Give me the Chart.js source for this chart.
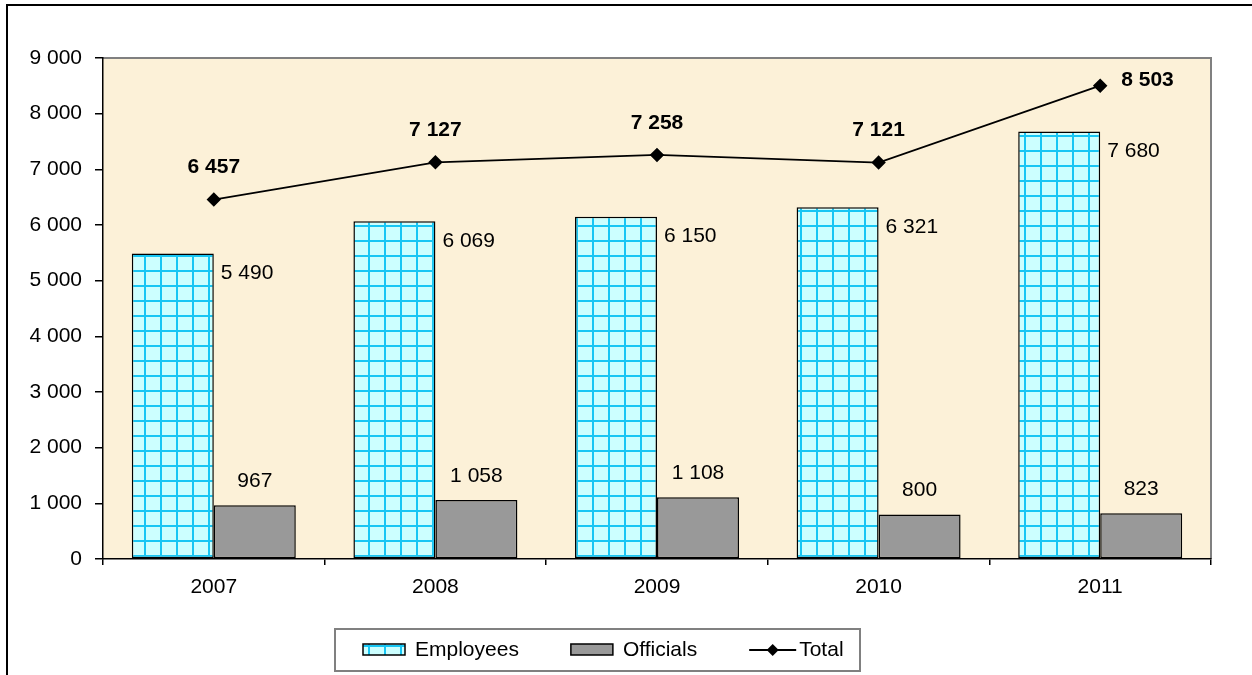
<!DOCTYPE html>
<html>
<head>
<meta charset="utf-8">
<script src="https://cdn.jsdelivr.net/npm/chart.js@4"></script>
<style>
  html, body { margin: 0; padding: 0; background: #fff; }
  #wrap { position: relative; width: 1252px; height: 675px; overflow: hidden; }
  #frame { position: absolute; left: 6px; top: 4px; width: 1300px; height: 700px;
           border-top: 2px solid #000; border-left: 2px solid #000; }
  #chart { position: absolute; left: 0; top: 0; }
</style>
</head>
<body>
<div id="wrap">
  <div id="frame"></div>
  <canvas id="chart" width="1252" height="675"></canvas>
</div>
<script>
// data
const years = ['2007', '2008', '2009', '2010', '2011'];
const employees = [5490, 6069, 6150, 6321, 7680];
const officials = [967, 1058, 1108, 800, 823];
const totals = [6457, 7127, 7258, 7121, 8503];
const yTicks = [0, 1000, 2000, 3000, 4000, 5000, 6000, 7000, 8000, 9000];

const FONT = '"Liberation Sans", Arial, sans-serif';
const FONT_SIZE = 21;

// 1 000 形式
function fmt(v) {
  return String(v).replace(/\B(?=(\d{3})+(?!\d))/g, ' ');
}

const canvas = document.getElementById('chart');
const ctx = canvas.getContext('2d');

// cyan grid fill for the Employees bars
function makeGridPattern() {
  const c = document.createElement('canvas');
  c.width = 16;
  c.height = 15;
  const g = c.getContext('2d');
  g.fillStyle = '#ccffff';
  g.fillRect(0, 0, 16, 15);
  g.strokeStyle = '#18c6f4';
  g.lineWidth = 2;
  g.beginPath();
  g.moveTo(1, 0); g.lineTo(1, 15);
  g.moveTo(0, 1); g.lineTo(16, 1);
  g.stroke();
  return ctx.createPattern(c, 'repeat');
}
const gridFill = makeGridPattern();

// plot background + gray frame on top/right
const plotBg = {
  id: 'plotBg',
  beforeDraw(chart) {
    const { ctx, chartArea: a } = chart;
    ctx.save();
    ctx.fillStyle = '#fcf1d8';
    ctx.fillRect(a.left, a.top, a.right - a.left, a.bottom - a.top);
    ctx.strokeStyle = '#808080';
    ctx.lineWidth = 2;
    ctx.beginPath();
    ctx.moveTo(a.left, a.top);
    ctx.lineTo(a.right, a.top);
    ctx.lineTo(a.right, a.bottom);
    ctx.stroke();
    ctx.restore();
  }
};

// value labels
const valueLabels = {
  id: 'valueLabels',
  afterDatasetsDraw(chart) {
    const ctx = chart.ctx;
    const top = chart.chartArea.top;
    ctx.save();
    ctx.fillStyle = '#000';
    ctx.textBaseline = 'middle';
    chart.data.datasets.forEach((ds, i) => {
      const meta = chart.getDatasetMeta(i);
      meta.data.forEach((el, j) => {
        const v = ds.data[j];
        if (ds.label === 'Employees') {
          ctx.font = FONT_SIZE + 'px ' + FONT;
          ctx.textAlign = 'left';
          ctx.fillText(fmt(v), el.x + el.width / 2 + 7, el.y + 20);
        } else if (ds.label === 'Officials') {
          ctx.font = FONT_SIZE + 'px ' + FONT;
          ctx.textAlign = 'center';
          ctx.fillText(fmt(v), el.x, el.y - 24);
        } else {
          ctx.font = 'bold ' + FONT_SIZE + 'px ' + FONT;
          if (el.y - 32 < top + 12) {
            // no room above: put it beside the marker
            ctx.textAlign = 'left';
            ctx.fillText(fmt(v), el.x + 21, el.y - 5);
          } else {
            ctx.textAlign = 'center';
            ctx.fillText(fmt(v), el.x, el.y - 32);
          }
        }
      });
    });
    ctx.restore();
  }
};

// boxed legend under the axis
const boxLegend = {
  id: 'boxLegend',
  afterDraw(chart) {
    const ctx = chart.ctx;
    const box = { x: 335, y: 629, w: 525, h: 42 };
    const cy = box.y + box.h / 2;
    ctx.save();
    ctx.strokeStyle = '#808080';
    ctx.lineWidth = 2;
    ctx.strokeRect(box.x, box.y, box.w, box.h);
    ctx.font = FONT_SIZE + 'px ' + FONT;
    ctx.textBaseline = 'middle';
    ctx.textAlign = 'left';
    ctx.fillStyle = '#000';

    let x = box.x + 28;
    chart.data.datasets.forEach((ds) => {
      if (ds.type === 'line') {
        ctx.strokeStyle = '#000';
        ctx.lineWidth = 2;
        ctx.beginPath();
        ctx.moveTo(x, cy);
        ctx.lineTo(x + 47, cy);
        ctx.stroke();
        ctx.fillStyle = '#000';
        ctx.beginPath();
        ctx.moveTo(x + 23.5, cy - 6);
        ctx.lineTo(x + 29.5, cy);
        ctx.lineTo(x + 23.5, cy + 6);
        ctx.lineTo(x + 17.5, cy);
        ctx.closePath();
        ctx.fill();
        x += 50;
      } else {
        ctx.fillStyle = ds.backgroundColor;
        ctx.fillRect(x, cy - 6, 42, 11);
        ctx.strokeStyle = '#000';
        ctx.lineWidth = 1.5;
        ctx.strokeRect(x, cy - 6, 42, 11);
        x += 52;
      }
      ctx.fillStyle = '#000';
      ctx.fillText(ds.label, x, cy);
      x += ctx.measureText(ds.label).width + 52;
    });
    ctx.restore();
  }
};

Chart.defaults.font.family = FONT;
Chart.defaults.font.size = FONT_SIZE;
Chart.defaults.color = '#000';

new Chart(ctx, {
  data: {
    labels: years,
    datasets: [
      {
        type: 'bar',
        label: 'Employees',
        data: employees,
        backgroundColor: gridFill,
        borderColor: '#000',
        borderWidth: 1.5,
        borderSkipped: false,
        categoryPercentage: 0.74,
        barPercentage: 1.0,
        order: 1
      },
      {
        type: 'bar',
        label: 'Officials',
        data: officials,
        backgroundColor: '#999999',
        borderColor: '#000',
        borderWidth: 1.5,
        borderSkipped: false,
        categoryPercentage: 0.74,
        barPercentage: 1.0,
        order: 1
      },
      {
        type: 'line',
        label: 'Total',
        data: totals,
        borderColor: '#000',
        borderWidth: 1.75,
        pointStyle: 'rectRot',
        pointRadius: 6,
        pointBackgroundColor: '#000',
        pointBorderColor: '#000',
        tension: 0,
        order: 0
      }
    ]
  },
  options: {
    responsive: false,
    devicePixelRatio: 1,
    animation: false,
    layout: { padding: { left: 0, top: 58, right: 41, bottom: 71 } },
    plugins: {
      legend: { display: false },
      tooltip: { enabled: false }
    },
    scales: {
      x: {
        offset: true,
        grid: {
          offset: true,
          drawOnChartArea: false,
          drawTicks: true,
          tickLength: 6,
          color: '#000',
          lineWidth: 1.5
        },
        border: { display: true, color: '#000', width: 1.5 },
        ticks: { padding: 10, font: { size: FONT_SIZE } },
        afterFit(scale) { scale.height = 45; }
      },
      y: {
        min: 0,
        max: 9000,
        afterBuildTicks(scale) {
          scale.ticks = yTicks.map(v => ({ value: v }));
        },
        grid: {
          drawOnChartArea: false,
          drawTicks: true,
          tickLength: 8,
          color: '#000',
          lineWidth: 1.5
        },
        border: { display: true, color: '#000', width: 1.5 },
        ticks: {
          padding: 13,
          font: { size: FONT_SIZE },
          callback: (v) => fmt(v)
        },
        afterFit(scale) { scale.width = 103; }
      }
    }
  },
  plugins: [plotBg, valueLabels, boxLegend]
});
</script>
</body>
</html>
